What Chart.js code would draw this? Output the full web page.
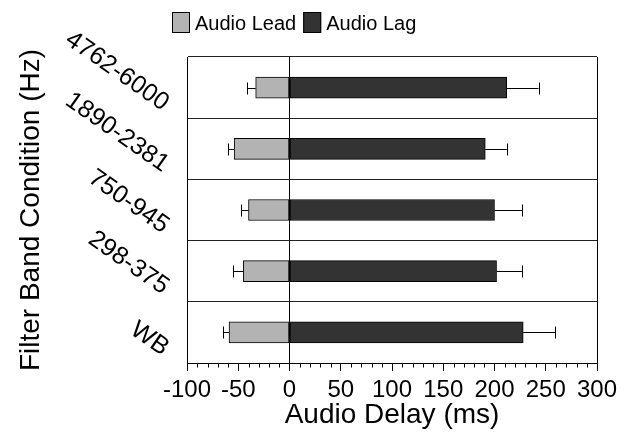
<!DOCTYPE html>
<html>
<head>
<meta charset="utf-8">
<script src="https://cdn.jsdelivr.net/npm/chart.js@4/dist/chart.umd.min.js"></script>
<style>
  html, body { margin: 0; padding: 0; background: #fff; }
  #wrap { width: 631px; height: 432px; }
</style>
</head>
<body>
<div id="wrap"><canvas id="c" width="631" height="432"></canvas></div>
<script>
const categories = ['4762-6000', '1890-2381', '750-945', '298-375', 'WB'];
const leadValues = [-33, -54, -40, -45, -59];
const leadErrors = [8, 6, 7, 10, 6];
const lagValues = [212, 191, 200, 202, 228];
const lagErrors = [31, 21, 27, 25, 31];
const seriesNames = ['Audio Lead', 'Audio Lag'];
const xMin = -100, xMax = 300, xStep = 10, xMajor = 50;

const FONT = "'Liberation Sans', Arial, Helvetica, sans-serif";
const leadColor = '#b3b3b3';
const lagColor = '#333333';

const errorBars = {
  id: 'errorBars',
  afterDatasetsDraw(chart) {
    const ctx = chart.ctx;
    const xs = chart.scales.x;
    const errs = [leadErrors, lagErrors];
    const sign = [-1, 1];
    ctx.save();
    ctx.strokeStyle = '#000';
    ctx.lineWidth = 1;
    chart.data.datasets.forEach((ds, di) => {
      const meta = chart.getDatasetMeta(di);
      meta.data.forEach((bar, j) => {
        const v = ds.data[j];
        const e = errs[di][j];
        const x1 = xs.getPixelForValue(v);
        const x2 = xs.getPixelForValue(v + sign[di] * e);
        const y = Math.round(bar.y) + 0.5;
        ctx.beginPath();
        ctx.moveTo(x1, y);
        ctx.lineTo(x2, y);
        const cx = Math.round(x2) + 0.5;
        ctx.moveTo(cx, y - 6);
        ctx.lineTo(cx, y + 6);
        ctx.stroke();
      });
    });
    ctx.restore();
  }
};

const extras = {
  id: 'extras',
  afterDraw(chart) {
    const ctx = chart.ctx;
    const xs = chart.scales.x;
    const ys = chart.scales.y;
    ctx.save();
    // minor ticks
    ctx.strokeStyle = '#000';
    ctx.lineWidth = 1;
    const yb = Math.round(chart.chartArea.bottom);
    for (let v = xMin; v <= xMax; v += xStep) {
      if (v % xMajor === 0) continue;
      const px = Math.round(xs.getPixelForValue(v)) + 0.5;
      ctx.beginPath();
      ctx.moveTo(px, yb);
      ctx.lineTo(px, yb + 4.5);
      ctx.stroke();
    }
    // rotated category labels
    ctx.fillStyle = '#000';
    ctx.font = '25px ' + FONT;
    ctx.textAlign = 'right';
    ctx.textBaseline = 'middle';
    categories.forEach((lab, i) => {
      const py = ys.getPixelForValue(i);
      ctx.save();
      ctx.translate(chart.chartArea.left - 21, py + 18);
      ctx.rotate(35 * Math.PI / 180);
      ctx.fillText(lab, 0, 0);
      ctx.restore();
    });
    // legend
    ctx.font = '20px ' + FONT;
    ctx.textAlign = 'left';
    ctx.textBaseline = 'middle';
    let lx = 172;
    const colors = [leadColor, lagColor];
    seriesNames.forEach((name, i) => {
      ctx.fillStyle = colors[i];
      ctx.fillRect(lx, 12, 18, 21);
      ctx.strokeStyle = '#000';
      ctx.lineWidth = 1;
      ctx.strokeRect(lx + 0.5, 12.5, 17, 20);
      ctx.fillStyle = '#000';
      ctx.fillText(name, lx + 23, 24);
      lx += 23 + ctx.measureText(name).width + 7;
    });
    ctx.restore();
  }
};

new Chart(document.getElementById('c'), {
  type: 'bar',
  data: {
    labels: categories,
    datasets: [
      { label: seriesNames[0], data: leadValues, backgroundColor: leadColor, borderColor: '#000', borderWidth: 1, borderSkipped: false, barThickness: 21 },
      { label: seriesNames[1], data: lagValues, backgroundColor: lagColor, borderColor: '#000', borderWidth: 1, borderSkipped: false, barThickness: 21 }
    ]
  },
  options: {
    indexAxis: 'y',
    responsive: false,
    animation: false,
    events: [],
    layout: { padding: { top: 57, right: 34, bottom: 0, left: 0 } },
    plugins: { legend: { display: false }, tooltip: { enabled: false } },
    scales: {
      x: {
        type: 'linear',
        stacked: true,
        min: xMin, max: xMax,
        afterFit(scale) { scale.height = 69; },
        border: { display: true, color: '#000', width: 1 },
        grid: {
          color: (c) => (c.tick && (c.tick.value === 0 || c.tick.value === xMax || c.tick.value === xMin)) ? '#000' : 'rgba(0,0,0,0)',
          lineWidth: 1,
          drawTicks: true,
          tickLength: 8,
          tickColor: (c) => (c.tick && c.tick.value % xMajor === 0) ? '#000' : 'rgba(0,0,0,0)'
        },
        ticks: {
          stepSize: xStep,
          autoSkip: false,
          minRotation: 0, maxRotation: 0,
          padding: 5,
          color: '#000',
          font: { size: 24, family: FONT },
          callback: (v) => (v % xMajor === 0 ? String(v) : '')
        },
        title: { display: true, text: 'Audio Delay (ms)', color: '#000', font: { size: 28, family: FONT }, padding: { top: 0, bottom: 0 } }
      },
      y: {
        stacked: true,
        afterFit(scale) { scale.width = 187; },
        border: { display: true, color: '#000', width: 1 },
        grid: { color: '#222', lineWidth: 1, drawTicks: false, offset: true },
        ticks: { display: false },
        title: { display: true, text: 'Filter Band Condition (Hz)', color: '#000', font: { size: 28, family: FONT }, padding: { top: 14, bottom: 0 } }
      }
    }
  },
  plugins: [errorBars, extras]
});
</script>
</body>
</html>
